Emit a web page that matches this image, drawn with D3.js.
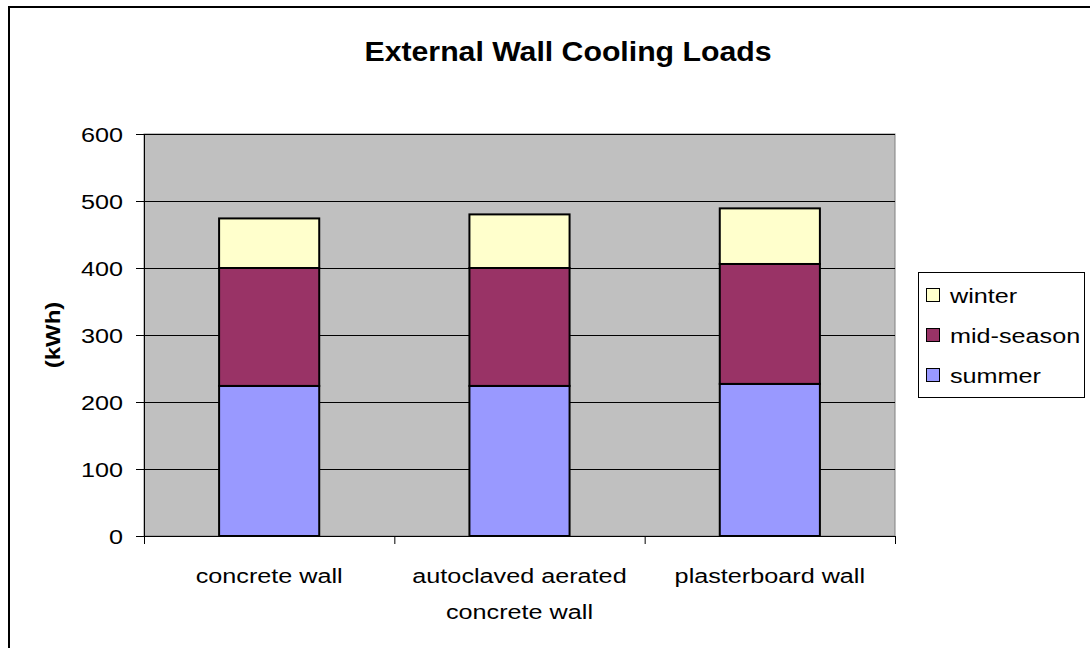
<!DOCTYPE html>
<html>
<head>
<meta charset="utf-8">
<script src="https://cdn.jsdelivr.net/npm/d3@7"></script>
<style>
  html, body { margin: 0; padding: 0; background: #fff; }
  svg { display: block; font-family: Arial, "Liberation Sans", sans-serif; }
</style>
</head>
<body>
<div id="chart"></div>
<script>
const categories = [["concrete wall"], ["autoclaved aerated", "concrete wall"], ["plasterboard wall"]];
const seriesNames = ["summer", "mid-season", "winter"];
const summer = [224, 224, 227];
const midSeason = [176, 176, 179];
const winter = [74, 80, 83];
const yTicks = [0, 100, 200, 300, 400, 500, 600];
const colors = { "summer": "#9999FF", "mid-season": "#993366", "winter": "#FFFFCC" };

const W = 1090, H = 648;
const plot = { left: 144, right: 895, top: 134, bottom: 536 };
const FONT = "Arial, 'Liberation Sans', sans-serif";
const SX = 1.2; // the source text is a bit wider than plain Arial

const svg = d3.select("#chart").append("svg").attr("width", W).attr("height", H);

// outer chart border (runs off the right/bottom edge)
svg.append("rect")
  .attr("x", 9).attr("y", 7)
  .attr("width", 1100).attr("height", 660)
  .attr("fill", "#fff").attr("stroke", "#000").attr("stroke-width", 2);

svg.append("text")
  .attr("transform", `translate(568,61) scale(1.08,1)`)
  .attr("text-anchor", "middle")
  .attr("font-size", 28).attr("font-weight", "bold")
  .text("External Wall Cooling Loads");

const keys = categories.map((c, i) => i);
const x = d3.scaleBand().domain(keys).range([plot.left, plot.right]).paddingInner(0).paddingOuter(0);
const y = d3.scaleLinear().domain([0, 600]).range([plot.bottom, plot.top]);

svg.append("rect")
  .attr("x", plot.left).attr("y", plot.top)
  .attr("width", plot.right - plot.left).attr("height", plot.bottom - plot.top)
  .attr("fill", "#C0C0C0").attr("stroke", "#808080").attr("stroke-width", 1);

// gridlines
svg.append("g").selectAll("line")
  .data(yTicks.filter(d => d > 0))
  .join("line")
  .attr("x1", plot.left).attr("x2", plot.right)
  .attr("y1", d => Math.round(y(d)) + 0.5).attr("y2", d => Math.round(y(d)) + 0.5)
  .attr("stroke", "#000").attr("stroke-width", 1);

// stacked bars
const rows = keys.map(i => ({ i, "summer": summer[i], "mid-season": midSeason[i], "winter": winter[i] }));
const stack = d3.stack().keys(seriesNames)(rows);
const barW = x.bandwidth() * 0.4;

svg.append("g").selectAll("g")
  .data(stack)
  .join("g")
  .attr("fill", d => colors[d.key])
  .selectAll("rect")
  .data(d => d)
  .join("rect")
  .attr("x", d => x(d.data.i) + (x.bandwidth() - barW) / 2)
  .attr("y", d => y(d[1]))
  .attr("width", barW)
  .attr("height", d => y(d[0]) - y(d[1]))
  .attr("stroke", "#000").attr("stroke-width", 2);

// y axis
const yAxis = svg.append("g")
  .attr("transform", `translate(${plot.left},0)`)
  .call(d3.axisLeft(y).tickValues(yTicks).tickSize(8).tickPadding(12).tickFormat(d3.format("d")));
yAxis.select(".domain").attr("stroke", "#000").attr("d", `M0.5,${plot.top}V${plot.bottom}`);
yAxis.selectAll(".tick line").attr("stroke", "#000");
yAxis.selectAll(".tick text")
  .attr("font-size", 21).attr("fill", "#000").attr("font-family", FONT)
  .attr("x", -21 / SX).attr("dy", "0.36em")
  .attr("transform", `scale(${SX},1)`);

// x axis: ticks at category boundaries
const xg = svg.append("g");
xg.append("line")
  .attr("x1", plot.left).attr("x2", plot.right)
  .attr("y1", plot.bottom + 0.5).attr("y2", plot.bottom + 0.5)
  .attr("stroke", "#000");
xg.selectAll("line.tk")
  .data(keys.concat([keys.length]))
  .join("line").attr("class", "tk")
  .attr("x1", d => (d < keys.length ? x(d) : plot.right) + 0.5)
  .attr("x2", d => (d < keys.length ? x(d) : plot.right) + 0.5)
  .attr("y1", plot.bottom).attr("y2", plot.bottom + 8)
  .attr("stroke", "#000");
xg.selectAll("text")
  .data(keys)
  .join("text")
  .attr("transform", d => `translate(${x(d) + x.bandwidth() / 2},583) scale(${SX},1)`)
  .attr("text-anchor", "middle")
  .attr("font-size", 21)
  .each(function(d) {
    d3.select(this).selectAll("tspan")
      .data(categories[d])
      .join("tspan")
      .attr("x", 0)
      .attr("dy", (t, j) => j === 0 ? 0 : 36)
      .text(t => t);
  });

// y axis title
svg.append("text")
  .attr("transform", `translate(60,${(plot.top + plot.bottom) / 2}) rotate(-90) scale(${SX},1)`)
  .attr("text-anchor", "middle")
  .attr("font-size", 20).attr("font-weight", "bold")
  .text("(kWh)");

// legend
const lg = svg.append("g");
lg.append("rect")
  .attr("x", 918.5).attr("y", 272.5).attr("width", 166).attr("height", 125)
  .attr("fill", "#fff").attr("stroke", "#000");
const legendOrder = ["winter", "mid-season", "summer"];
const li = lg.selectAll("g").data(legendOrder).join("g")
  .attr("transform", (d, i) => `translate(926,${295 + i * 40})`);
li.append("rect")
  .attr("x", 0.5).attr("y", -6.5).attr("width", 13).attr("height", 13)
  .attr("fill", d => colors[d]).attr("stroke", "#000").attr("stroke-width", 1);
li.append("text")
  .attr("transform", `translate(24,7.5) scale(${SX},1)`)
  .attr("font-size", 21)
  .text(d => d);
</script>
</body>
</html>
